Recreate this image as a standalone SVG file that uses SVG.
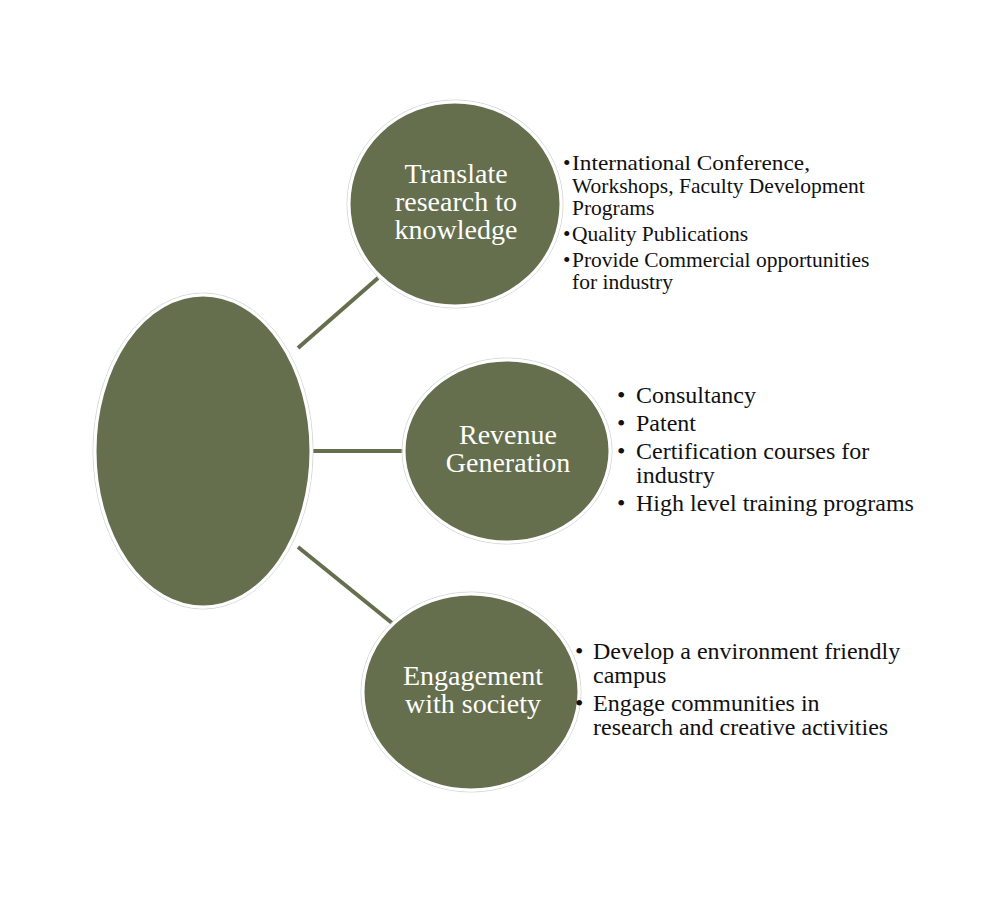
<svg xmlns="http://www.w3.org/2000/svg" width="1000" height="900" viewBox="0 0 1000 900">
<style>
.node{fill:#656f4e;stroke:#ffffff;stroke-width:3}
.ring{fill:none;stroke:#d8d8d8;stroke-width:1}
.conn{stroke:#656f4e;stroke-width:4;fill:none}
.lbl{font-family:"Liberation Serif","Times New Roman",serif;font-size:28px;fill:#ffffff;text-anchor:middle}
.b1{font-family:"Liberation Serif","Times New Roman",serif;font-size:21.5px;fill:#111111}
.b2{font-family:"Liberation Serif","Times New Roman",serif;font-size:24px;fill:#111111}
</style>
<rect width="1000" height="900" fill="#ffffff"/>
<g id="connectors">
<line class="conn" x1="298" y1="348" x2="378" y2="278"/>
<line class="conn" x1="313" y1="451" x2="404" y2="451"/>
<line class="conn" x1="298" y1="547" x2="392" y2="623"/>
</g>
<g id="center">
<ellipse class="ring" cx="203" cy="451" rx="110" ry="158"/>
<ellipse class="node" cx="203" cy="451" rx="108" ry="156"/>
</g>
<g id="translate">
<ellipse class="ring" cx="455" cy="204" rx="108" ry="104"/>
<ellipse class="node" cx="455" cy="204" rx="106" ry="102"/>
<text class="lbl" x="456" y="183">Translate</text>
<text class="lbl" x="456" y="211">research to</text>
<text class="lbl" x="456" y="239">knowledge</text>
<text class="b1" x="563" y="170">•</text><text class="b1" x="572" y="170" textLength="238" lengthAdjust="spacingAndGlyphs">International Conference,</text>
<text class="b1" x="572" y="193">Workshops, Faculty Development</text>
<text class="b1" x="572" y="215">Programs</text>
<text class="b1" x="563" y="241">•</text><text class="b1" x="572" y="241">Quality Publications</text>
<text class="b1" x="563" y="267">•</text><text class="b1" x="572" y="267">Provide Commercial opportunities</text>
<text class="b1" x="572" y="289">for industry</text>
</g>
<g id="revenue">
<ellipse class="ring" cx="507" cy="451" rx="105" ry="93"/>
<ellipse class="node" cx="507" cy="451" rx="103" ry="91"/>
<text class="lbl" x="508" y="444">Revenue</text>
<text class="lbl" x="508" y="472">Generation</text>
<text class="b2" x="617" y="403">•</text><text class="b2" x="636" y="403">Consultancy</text>
<text class="b2" x="617" y="431">•</text><text class="b2" x="636" y="431">Patent</text>
<text class="b2" x="617" y="459">•</text><text class="b2" x="636" y="459">Certification courses for</text>
<text class="b2" x="636" y="483">industry</text>
<text class="b2" x="617" y="511">•</text><text class="b2" x="636" y="511">High level training programs</text>
</g>
<g id="engagement">
<ellipse class="ring" cx="471" cy="692" rx="110" ry="100"/>
<ellipse class="node" cx="471" cy="692" rx="108" ry="98"/>
<text class="lbl" x="473" y="685">Engagement</text>
<text class="lbl" x="473" y="713">with society</text>
<text class="b2" x="575" y="659">•</text><text class="b2" x="593" y="659">Develop a environment friendly</text>
<text class="b2" x="593" y="683">campus</text>
<text class="b2" x="575" y="711">•</text><text class="b2" x="593" y="711">Engage communities in</text>
<text class="b2" x="593" y="735">research and creative activities</text>
</g>
</svg>
